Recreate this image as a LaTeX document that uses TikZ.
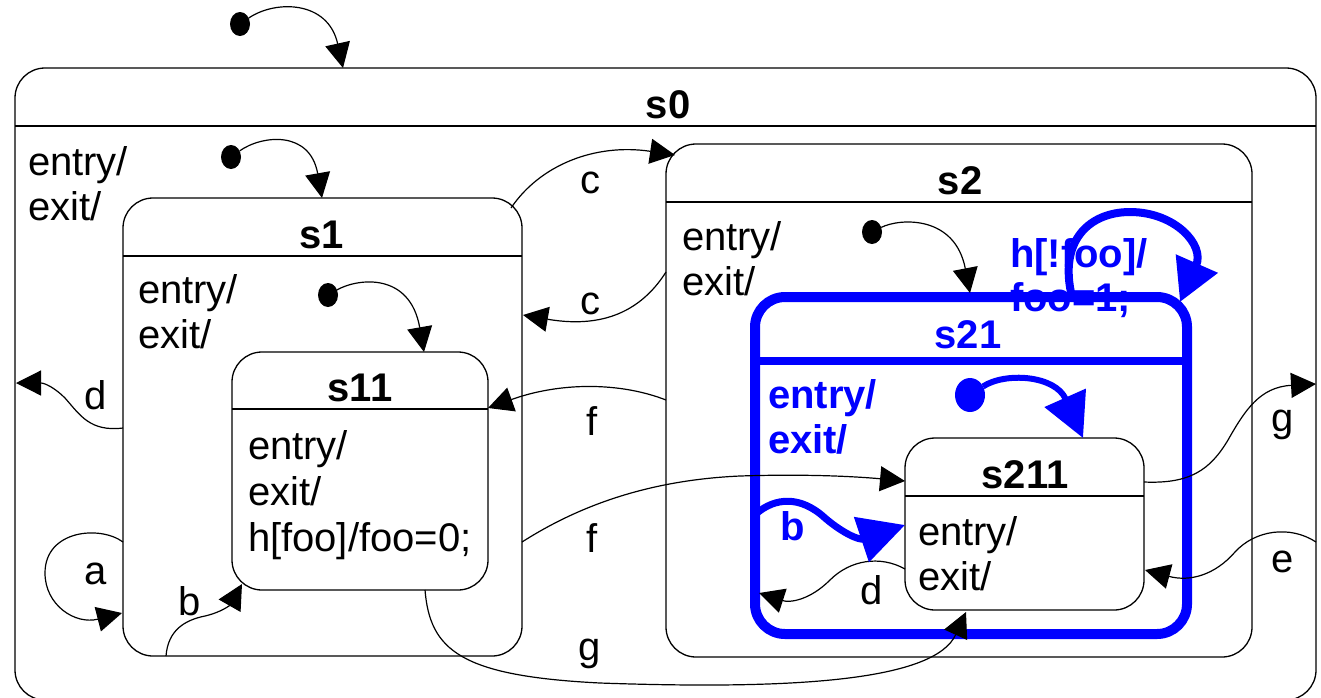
\documentclass[tikz,border=0pt]{standalone}
\usepackage{fontspec}
\setmainfont{Liberation Sans}
\usetikzlibrary{arrows.meta,calc,shapes.geometric}
\definecolor{sblue}{RGB}{0,0,255}
\begin{document}
\begin{tikzpicture}[x=1pt,y=-1pt,
  every node/.style={font=\fontsize{40}{45}\selectfont, inner sep=0pt, outer sep=0pt},
  statebox/.style={draw, line width=1.3pt, rounded corners=30pt},
  bstatebox/.style={draw=sblue, line width=10pt, rounded corners=30pt},
  divline/.style={line width=1.3pt},
  trans/.style={line width=1.2pt, -{Triangle[length=25pt,width=25pt]}},
  btrans/.style={draw=sblue, line width=7pt, -{Triangle[length=44pt,width=44pt]}},
  initdot/.style={fill, ellipse, minimum width=20pt, minimum height=24pt},
  binitdot/.style={fill=sblue, ellipse, minimum width=30pt, minimum height=34pt},
  title/.style={anchor=base, font=\fontsize{40}{45}\selectfont\bfseries},
  act/.style={anchor=base west},
  bact/.style={anchor=base west, text=sblue, font=\fontsize{40}{45}\selectfont\bfseries},
  lbl/.style={anchor=base}]
\useasboundingbox (0,0) rectangle (1321,697);

% states
\node[statebox, minimum width=1301pt, minimum height=632pt] (s0) at (665.5,384) {};
\node[statebox, minimum width=399pt, minimum height=458pt] (s1) at (322.5,427) {};
\node[statebox, minimum width=256pt, minimum height=238pt] (s11) at (360,471) {};
\node[statebox, minimum width=586pt, minimum height=513pt] (s2) at (959,400.5) {};
\node[bstatebox, minimum width=432pt, minimum height=337pt] (s21) at (971,465.5) {};
\node[statebox, minimum width=239pt, minimum height=172pt] (s211) at (1024.5,524) {};

% dividers
\draw[divline] ($(s0.north west)+(0,58)$) -- ($(s0.north east)+(0,58)$);
\draw[divline] ($(s1.north west)+(0,58)$) -- ($(s1.north east)+(0,58)$);
\draw[divline] ($(s11.north west)+(0,57)$) -- ($(s11.north east)+(0,57)$);
\draw[divline] ($(s2.north west)+(0,58)$) -- ($(s2.north east)+(0,58)$);
\draw[sblue, line width=8pt] ($(s21.north west)+(0,64)$) -- ($(s21.north east)+(0,64)$);
\draw[divline] ($(s211.north west)+(0,58)$) -- ($(s211.north east)+(0,58)$);

% titles
\node[title] (t0) at (668,118) {s0};
\node[title] (t1) at (322,248) {s1};
\node[title] (t11) at (360,401) {s11};
\node[title] (t2) at (960,194) {s2};
\node[title, text=sblue] (t21) at (968,348) {s21};
\node[title] (t211) at (1025,488) {s211};

% actions
\node[act] (a0e) at (28,175) {entry/};
\node[act] (a0x) at (28,220) {exit/};
\node[act] (a1e) at (138,303) {entry/};
\node[act] (a1x) at (138,348) {exit/};
\node[act] (a11e) at (248,459) {entry/};
\node[act] (a11x) at (248,505) {exit/};
\node[act] (a11h) at (248,551) {h[foo]/foo=0;};
\node[act] (a2e) at (682,250) {entry/};
\node[act] (a2x) at (682,295) {exit/};
\node[bact] (a21e) at (768,408) {entry/};
\node[bact] (a21x) at (768,453) {exit/};
\node[bact] (hl1) at (1010,267) {h[!foo]/};
\node[bact] (hl2) at (1010,311) {foo=1;};
\node[act] (a211e) at (918,545) {entry/};
\node[act] (a211x) at (918,590) {exit/};

% initial dots
\node[initdot] (i0) at (240,24) {};
\node[initdot] (i1) at (231,157) {};
\node[initdot] (i11) at (328,295) {};
\node[initdot] (i21) at (872,232) {};
\node[binitdot] (i211) at (970,395) {};

% initial transitions
\draw[trans] (i0) .. controls (275,0) and (328,0) .. ($(s0.north west)+(328,0)$);
\draw[trans] (i1) .. controls (262,135) and (310,130) .. ($(s1.north west)+(199,0)$);
\draw[trans] (i11) .. controls (358,278) and (410,272) .. ($(s11.north west)+(192,0)$);
\draw[trans] (i21) .. controls (900,218) and (955,215) .. ($(s21.north west)+(215,-4)$);
\draw[btrans, line width=6pt] (i211) .. controls (1005,372) and (1055,375) .. ($(s211.north west)+(178,0)$);

% self loop on s21
\draw[btrans, line width=8pt, -{Triangle[length=42pt,width=44pt]}] ($(s21.north west)+(317,0)$) .. controls (1058,240) and (1090,212) .. (1130,212) .. controls (1175,212) and (1205,245) .. ($(s21.north west)+(425,5)$);

% transitions
\draw[trans] ($(s1.north east)+(-11,10)$) .. controls (540,165) and (595,143) .. ($(s2.north west)+(9,11)$);
\draw[trans] ($(s2.north west)+(0,128)$) .. controls (645,305) and (610,330) .. ($(s1.north east)+(1,117)$);
\draw[trans] ($(s1.north west)+(0,230)$) .. controls (90,432) and (80,415) .. (65,398) .. controls (55,388) and (45,383) .. ($(s0.north west)+(1,315)$);
\draw[trans] ($(s2.north west)+(0,256)$) .. controls (620,382) and (560,382) .. ($(s11.north east)+(0,56)$);
\draw[trans] ($(s1.north east)+(0,344)$) .. controls (580,505) and (650,480) .. (740,476) .. controls (800,474) and (850,476) .. ($(s211.north west)+(0,43)$);
\draw[trans] ($(s1.north west)+(0,344)$) .. controls (100,525) and (45,530) .. (45,573) .. controls (45,605) and (75,625) .. ($(s1.north west)+(-1,415)$);
\draw[trans] ($(s1.south west)+(43,0)$) .. controls (168,630) and (185,620) .. (205,616) .. controls (222,612) and (230,605) .. ($(s11.south west)+(10,-6)$);
\draw[trans] ($(s11.south west)+(193,0)$) .. controls (430,650) and (460,676) .. (600,683) .. controls (800,690) and (935,680) .. ($(s211.south west)+(61,2)$);
\draw[trans] ($(s211.north east)+(0,44)$) .. controls (1190,484) and (1210,470) .. (1228,440) .. controls (1245,410) and (1260,387) .. ($(s0.north east)+(0,316)$);
\draw[trans] ($(s0.north east)+(0,474)$) .. controls (1290,525) and (1255,530) .. (1235,552) .. controls (1215,575) and (1190,582) .. ($(s211.north east)+(1,132)$);
\draw[trans] ($(s211.north west)+(0,131)$) .. controls (880,555) and (850,560) .. (830,580) .. controls (810,600) and (790,603) .. ($(s21.north west)+(4,296)$);
\draw[btrans, -{Triangle[length=46pt,width=46pt]}] ($(s21.north west)+(2,216)$) .. controls (775,498) and (800,495) .. (825,518) .. controls (845,535) and (860,540) .. ($(s211.north west)+(0,87)$);

% labels
\node[lbl] (lc1) at (590,193) {c};
\node[lbl] (lc2) at (590,314) {c};
\node[lbl] (ld1) at (96,409) {d};
\node[lbl] (lf1) at (592,435) {f};
\node[lbl] (lf2) at (592,552) {f};
\node[lbl] (la) at (96,584) {a};
\node[lbl] (lb) at (190,615) {b};
\node[lbl] (lg1) at (590,660) {g};
\node[lbl] (lg2) at (1283,431) {g};
\node[lbl] (le) at (1283,572) {e};
\node[lbl] (ld2) at (872,604) {d};
\node[lbl, text=sblue, font=\fontsize{40}{45}\selectfont\bfseries] (lb2) at (793,540) {b};
\end{tikzpicture}
\end{document}
